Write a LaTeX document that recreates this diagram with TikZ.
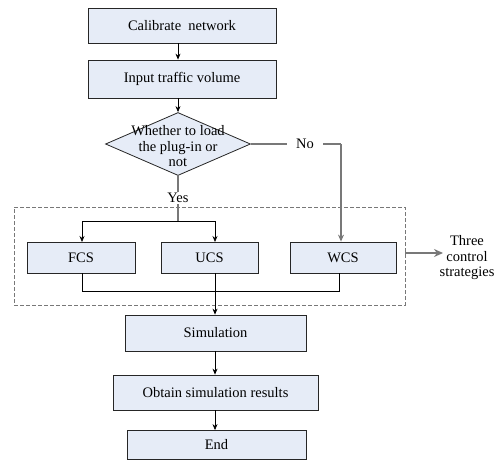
\documentclass[tikz,border=0pt]{standalone}
\usepackage{fontspec}
\setmainfont{Liberation Serif}
\usetikzlibrary{shapes.geometric,arrows.meta}
\definecolor{boxfill}{RGB}{230,236,247}
\definecolor{lgray}{RGB}{120,120,120}
\begin{document}
\begin{tikzpicture}[x=1pt,y=-1pt,
  every node/.style={font=\fontsize{14.5}{15.5}\selectfont},
  box/.style={draw=black!85, line width=0.8pt, fill=boxfill, inner sep=0pt, minimum width=#1},
  arr/.style={-{Stealth[length=6pt,width=5pt]}, line width=0.7pt, black},
  ln/.style={line width=0.7pt, black},
  gln/.style={draw=lgray, line width=1.1pt},
  garr/.style={draw=lgray, line width=1.1pt, -{Stealth[length=7pt,width=6pt]}}]
\useasboundingbox (0,0) rectangle (494,460);
\node[box=188pt, minimum height=35pt] (cal) at (182,25.5) {Calibrate\ \ network};
\node[box=188pt, minimum height=38pt] (inp) at (182,79) {Input traffic volume};
\node[diamond, draw=black!85, line width=0.8pt, fill=boxfill, inner sep=0pt,
      minimum width=145pt, minimum height=63pt] (dia) at (178,144) {};
\node[align=center, inner sep=0pt] (diat) at (178,146.5) {Whether to load\\the plug-in or\\not};
\node[inner sep=1pt] (yes) at (178,198) {Yes};
\node[inner xsep=9pt, inner ysep=1pt] (no) at (305,144) {No};
\coordinate (split) at (178,221);
\coordinate (nocorner) at (341,144);
\node[draw=lgray, dash pattern=on 4pt off 2pt, line width=0.9pt, minimum width=391pt, minimum height=98pt, inner sep=0pt] (grp) at (209.5,256) {};
\node[box=108pt, minimum height=31pt] (fcs) at (81,257.5) {FCS};
\node[box=97pt, minimum height=31pt] (ucs) at (209.5,257.5) {UCS};
\node[box=106pt, minimum height=31pt] (wcs) at (343,257.5) {WCS};
\coordinate (join) at (215,291);
\node[box=181pt, minimum height=36pt] (sim) at (215.5,333) {Simulation};
\node[box=205pt, minimum height=35pt] (obt) at (215.5,392.5) {Obtain simulation results};
\node[box=179pt, minimum height=29pt] (end) at (216.5,445) {End};
\node[align=center, inner sep=1pt] (three) at (467,258) {Three\\control\\strategies};
% connectors
\draw[arr] ([xshift=-4pt]cal.south) -- ([xshift=-4pt]inp.north);
\draw[arr] ([xshift=-4pt]inp.south) -- (dia.north);
\draw[gln] (dia.south) -- (yes.north);
\draw[gln] (yes.south) -- (split);
\draw[ln] (82,221) -- (215,221);
\draw[arr] (82,221) -- (82,242);
\draw[arr] (215,221) -- (215,242);
\draw[gln] (dia.east) -- (no.west);
\draw[gln] (no.east) -- (nocorner);
\draw[garr] (nocorner) -- (nocorner |- wcs.north);
\draw[ln] (fcs.south -| 82,0) -- (82,291) -- (339,291) -- (339,273);
\draw[arr] (215,273) -- (sim.north -| 215,0);
\draw[arr] (sim.south -| 215,0) -- (obt.north -| 215,0);
\draw[arr] (obt.south -| 215,0) -- (end.north -| 215,0);
\draw[garr, line width=1.5pt, -{Stealth[length=9pt,width=8pt]}] (grp.east |- 0,253) -- (443,253);
\end{tikzpicture}
\end{document}
